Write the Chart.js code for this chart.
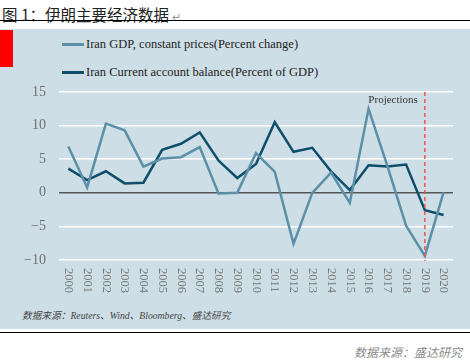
<!DOCTYPE html>
<html>
<head>
<meta charset="utf-8">
<script src="https://cdn.jsdelivr.net/npm/chart.js@4.4.0/dist/chart.umd.min.js"></script>
<style>
  body { margin: 0; width: 470px; height: 362px; position: relative; background: #fff; overflow: hidden; }
  .title { position: absolute; left: 2px; top: 3px; font: 15.5px "Noto Sans CJK SC", sans-serif; color: #222; white-space: nowrap; }
  .title .mark { color: #999; font-size: 11px; }
  .rule-top { position: absolute; left: 0; top: 20px; width: 470px; height: 1px; background: #000; }
  .panel { position: absolute; left: 0; top: 29px; width: 470px; height: 300px; background: #cedee6; }
  .red { position: absolute; left: 0; top: 30px; width: 13px; height: 37px; background: #ff0000; }
  .legend { position: absolute; left: 62px; font: 12.5px "Liberation Serif", serif; color: #222; white-space: nowrap; }
  .legend i { display: inline-block; width: 22px; height: 3px; vertical-align: middle; margin-right: 2px; position: relative; top: -1px; }
  .src-in { position: absolute; left: 22px; top: 308px; font: italic 9.7px "Liberation Serif", "Noto Sans CJK SC", serif; color: #444; white-space: nowrap; }
  .rule-bot { position: absolute; left: 0; top: 332px; width: 470px; height: 1px; background: #000; }
  .src-out { position: absolute; right: 8px; top: 343px; font: italic 12px "Noto Sans CJK SC", sans-serif; color: #8a8a8a; white-space: nowrap; }
  canvas { position: absolute; left: 0; top: 0; }
</style>
</head>
<body>
<div class="title">图 1：伊朗主要经济数据<span class="mark"> ↵</span></div>
<div class="rule-top"></div>
<div class="panel"></div>
<div class="red"></div>
<div class="legend" style="top:37px"><i style="background:#5b90a8"></i>Iran GDP, constant prices(Percent change)</div>
<div class="legend" style="top:65px"><i style="background:#0f4e6a"></i>Iran Current account balance(Percent of GDP)</div>
<div class="src-in">数据来源：Reuters、Wind、Bloomberg、盛达研究</div>
<div class="rule-bot"></div>
<div class="src-out">数据来源：盛达研究</div>
<canvas id="chart" width="470" height="362"></canvas>
<script>
// Data
const years = ['2000', '2001', '2002', '2003', '2004', '2005', '2006', '2007', '2008', '2009', '2010',
               '2011', '2012', '2013', '2014', '2015', '2016', '2017', '2018', '2019', '2020'];
const gdpGrowth = [6.9, 0.8, 10.3, 9.3, 3.9, 5.1, 5.3, 6.8, -0.1, 0.0, 5.9,
                   3.1, -7.6, 0.0, 3.0, -1.5, 12.5, 4.0, -4.9, -9.4, 0.1];
const currentAccount = [3.6, 1.9, 3.2, 1.4, 1.5, 6.4, 7.3, 9.0, 4.8, 2.2, 4.3,
                        10.5, 6.1, 6.7, 3.2, 0.4, 4.1, 3.9, 4.2, -2.6, -3.3];
const yTicks = [-10, -5, 0, 5, 10, 15];
const projectionStart = '2019';

const overlay = {
  id: 'overlay',
  afterDatasetsDraw(chart) {
    const c = chart.ctx;
    const x = chart.scales.x;
    const area = chart.chartArea;
    // projection marker
    const px = x.getPixelForValue(years.indexOf(projectionStart));
    c.save();
    c.strokeStyle = '#ec5a40';
    c.lineWidth = 1.5;
    c.setLineDash([4, 3]);
    c.beginPath();
    c.moveTo(px, area.top);
    c.lineTo(px, area.bottom + 1);
    c.stroke();
    c.setLineDash([]);
    c.fillStyle = '#333';
    c.font = '11px "Liberation Serif", serif';
    c.textAlign = 'right';
    c.textBaseline = 'middle';
    c.fillText('Projections', px - 7, area.top + 8);
    // vertical year labels
    c.fillStyle = '#777';
    c.font = '12.5px "Liberation Serif", serif';
    c.textAlign = 'left';
    years.forEach((y, i) => {
      c.save();
      c.translate(x.getPixelForValue(i), area.bottom + 8);
      c.rotate(Math.PI / 2);
      c.fillText(y, 0, 0);
      c.restore();
    });
    c.restore();
  }
};

new Chart(document.getElementById('chart'), {
  type: 'line',
  data: {
    labels: years,
    datasets: [
      { label: 'Iran GDP, constant prices(Percent change)', data: gdpGrowth,
        borderColor: '#5b90a8', borderWidth: 2.5, pointRadius: 0, tension: 0 },
      { label: 'Iran Current account balance(Percent of GDP)', data: currentAccount,
        borderColor: '#0f4e6a', borderWidth: 2.5, pointRadius: 0, tension: 0 }
    ]
  },
  options: {
    responsive: false,
    devicePixelRatio: 1,
    animation: false,
    layout: { padding: { top: 92, right: 17, bottom: 0, left: 0 } },
    plugins: { legend: { display: false }, tooltip: { enabled: false } },
    scales: {
      x: {
        offset: true,
        grid: { display: false },
        border: { display: false },
        ticks: { display: false },
        afterFit: s => { s.height = 362 - 260; }
      },
      y: {
        min: -10,
        max: 15,
        afterBuildTicks: s => { s.ticks = yTicks.map(v => ({ value: v })); },
        afterFit: s => { s.width = 59; },
        border: { display: false },
        grid: {
          drawTicks: false,
          lineWidth: 1.5,
          color: ctx => ctx.tick && ctx.tick.value === 0 ? '#555' : '#ffffff'
        },
        ticks: {
          padding: 13,
          color: '#707070',
          font: { family: 'Liberation Serif', size: 14 },
          callback: v => String(v).replace('-', '\u2212')
        }
      }
    }
  },
  plugins: [overlay]
});
</script>
</body>
</html>
